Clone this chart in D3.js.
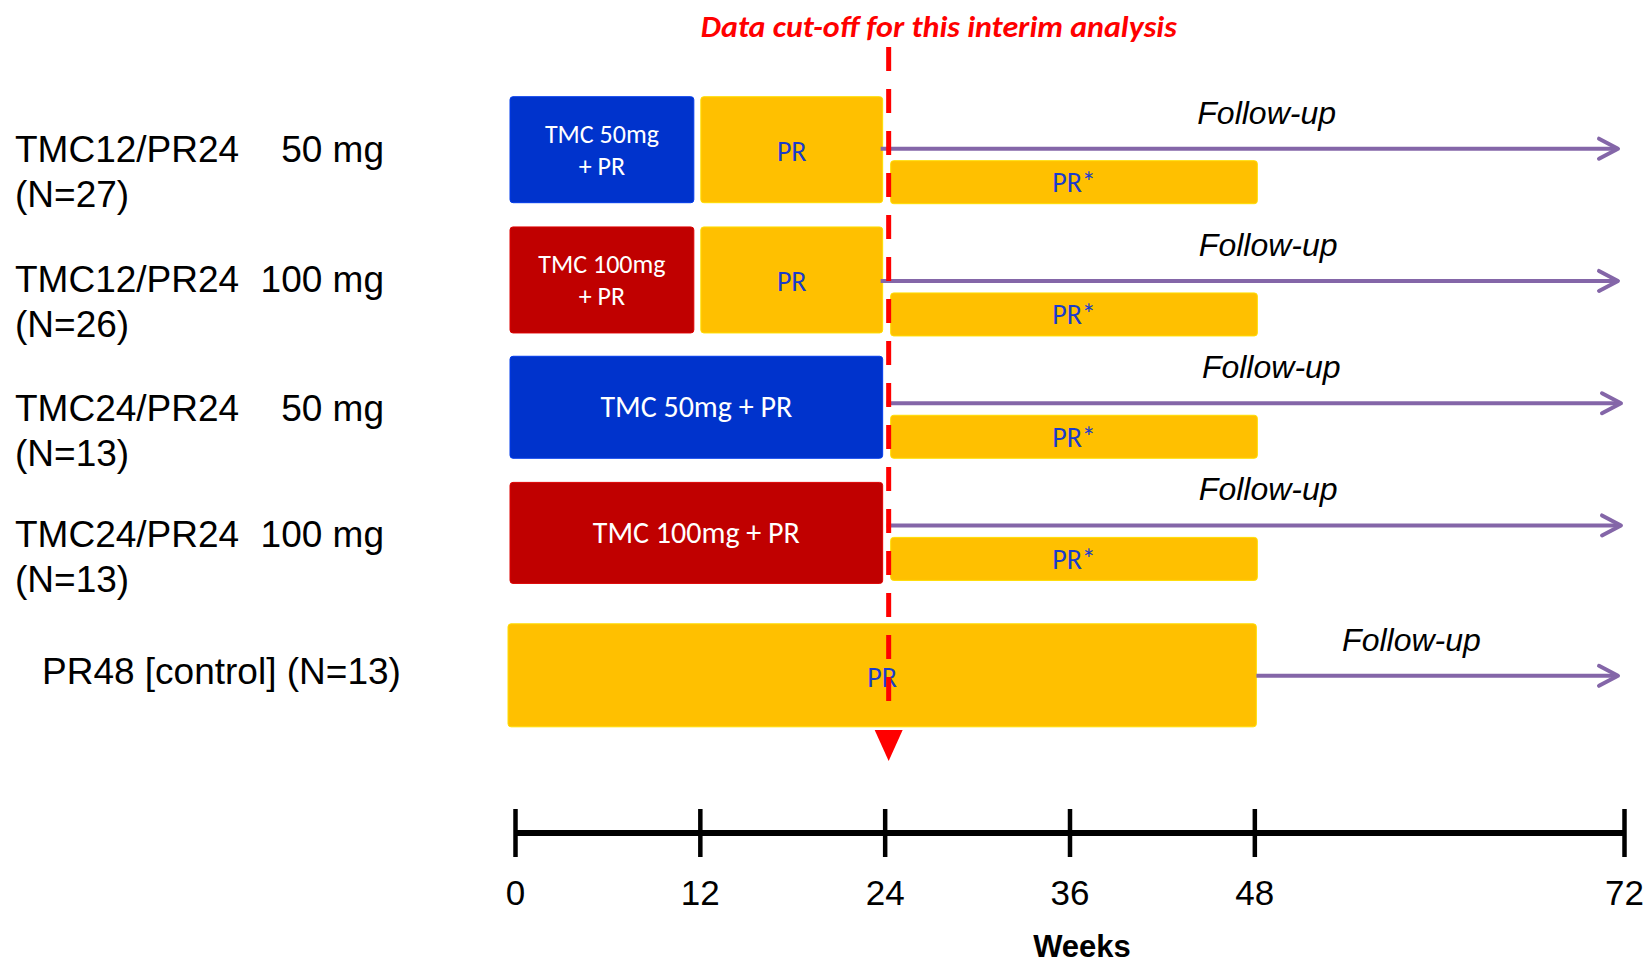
<!DOCTYPE html>
<html>
<head>
<meta charset="utf-8">
<script src="https://cdn.jsdelivr.net/npm/d3@7"></script>
<style>
  html, body { margin: 0; padding: 0; background: #fff; }
  svg { display: block; }
</style>
</head>
<body>
<svg id="chart" width="1648" height="966"></svg>
<script>
// ---- Study arms (rows, top to bottom) ----
const armNames = ["TMC12/PR24", "TMC12/PR24", "TMC24/PR24", "TMC24/PR24"];
const armDoses = ["50 mg", "100 mg", "50 mg", "100 mg"];
const armSizes = [27, 26, 13, 13];
const controlLabel = "PR48 [control] (N=13)";

// ---- Treatment blocks, in weeks ----
const blockRow   = [0, 0, 1, 1, 2, 3, 4];
const blockStart = [0, 12, 0, 12, 0, 0, 0];
const blockEnd   = [12, 24, 12, 24, 24, 24, 48];
const blockKind  = ["tmc50", "pr", "tmc100", "pr", "tmc50", "tmc100", "pr"];
const blockText  = [["TMC 50mg", "+ PR"], ["PR"], ["TMC 100mg", "+ PR"], ["PR"],
                    ["TMC 50mg + PR"], ["TMC 100mg + PR"], ["PR"]];

// ---- PR* continuation after week 24 ----
const prStarRow   = [0, 1, 2, 3];
const prStarStart = [24, 24, 24, 24];
const prStarEnd   = [48, 48, 48, 48];
const prStarText  = "PR*";

// ---- Follow-up periods ----
const followRow   = [0, 1, 2, 3, 4];
const followStart = [24, 24, 24, 24, 48];
const followEnd   = [72, 72, 72, 72, 72];
const followText  = "Follow-up";

// ---- Time axis ----
const weekTicks  = [0, 12, 24, 36, 48, 72];
const cutoffWeek = 24;
const cutoffText = "Data cut-off for this interim analysis";
const axisTitle  = "Weeks";

// ---- Layout ----
const rowSlot   = [0, 1.013, 2.019, 3, 4.1];     // vertical slot of each row
const rowHeight = [106, 106, 102, 101, 103];     // block height per row
const starDrop  = [64, 66, 59, 55];              // PR* block offset below row top
const starH = 43;
const followLabelAt = [48.8, 48.9, 49.1, 48.9, 58.2]; // week where "Follow-up" is centred

const colors = {
  tmc50: "#0033cc", tmc100: "#c00000", pr: "#ffc000",
  prText: "#1a3ccc", follow: "#8466a8", cutoff: "#ff0000"
};

const svg = d3.select("#chart");
const x = d3.scaleLinear().domain([0, 72]).range([515, 1624]);
const y = d3.scaleLinear().domain([0, 3]).range([96.7, 482.4]);
const rowTop = r => y(rowSlot[r]);

// ---- Row labels ----
const labelFont = "'Liberation Sans', Arial, sans-serif";
const lab = svg.append("g").attr("font-family", labelFont).attr("font-size", 37).attr("fill", "#000");
armNames.forEach((name, i) => {
  const t = rowTop(i);
  lab.append("text").attr("x", 15).attr("y", t + 65).text(name);
  lab.append("text").attr("x", 384).attr("y", t + 65).attr("text-anchor", "end").text(armDoses[i]);
  lab.append("text").attr("x", 15).attr("y", t + 110).text(`(N=${armSizes[i]})`);
});
lab.append("text").attr("x", 42).attr("y", rowTop(4) + 60).text(controlLabel);

// ---- Treatment blocks ----
const boxFont = "Carlito, Lato, 'Open Sans', sans-serif";
const blocks = blockRow.map((r, i) => ({
  r, s: blockStart[i], e: blockEnd[i], kind: blockKind[i], text: blockText[i],
  hasNext: blockRow[i + 1] === r
}));
const bg = svg.append("g");
blocks.forEach(b => {
  const x0 = x(b.s) + (b.s === 0 ? (b.r === 4 ? -7 : -5) : 1);
  const x1 = x(b.e) - (b.hasNext ? 6 : (b.e === 48 ? -2 : 2));
  const t = rowTop(b.r), h = rowHeight[b.r];
  bg.append("rect")
    .attr("x", x0).attr("y", t).attr("width", x1 - x0).attr("height", h)
    .attr("rx", 3).attr("fill", colors[b.kind])
    .attr("stroke", d3.color(colors[b.kind]).brighter(0.4)).attr("stroke-width", 1);
  const cx = (x0 + x1) / 2, cy = t + h / 2;
  const isPR = b.kind === "pr";
  const fs = b.text.length > 1 ? 26 : (isPR ? 28 : 30);
  const lh = 32;
  b.text.forEach((line, k) => {
    bg.append("text")
      .attr("x", cx)
      .attr("y", cy + (k - (b.text.length - 1) / 2) * lh + fs * 0.34 + (isPR ? 2 : 0))
      .attr("text-anchor", "middle")
      .attr("font-family", boxFont).attr("font-size", fs)
      .attr("fill", isPR ? colors.prText : "#fff")
      .text(line);
  });
});

// ---- PR* blocks ----
prStarRow.forEach((r, i) => {
  const x0 = x(prStarStart[i]) + 6, x1 = x(prStarEnd[i]) + 3;
  const t = rowTop(r) + starDrop[i];
  bg.append("rect")
    .attr("x", x0).attr("y", t).attr("width", x1 - x0).attr("height", starH)
    .attr("rx", 3).attr("fill", colors.pr)
    .attr("stroke", d3.color(colors.pr).brighter(0.4)).attr("stroke-width", 1);
  bg.append("text")
    .attr("x", (x0 + x1) / 2).attr("y", t + starH / 2 + 10)
    .attr("text-anchor", "middle")
    .attr("font-family", boxFont).attr("font-size", 28)
    .attr("fill", colors.prText).text(prStarText);
});

// ---- Follow-up arrows ----
const fg = svg.append("g");
followRow.forEach((r, i) => {
  const ay = r < 4 ? rowTop(r) + starDrop[r] - 12 : rowTop(r) + 52;
  const x0 = x(followStart[i]) + (r < 4 ? (r < 2 ? -4 : 2) : 2);
  const x1 = x(followEnd[i]) - (r === 2 || r === 3 ? 3 : 6);
  fg.append("line")
    .attr("x1", x0).attr("x2", x1 - 1).attr("y1", ay).attr("y2", ay)
    .attr("stroke", colors.follow).attr("stroke-width", 4);
  fg.append("path")
    .attr("d", `M${x1 - 19},${ay - 10}L${x1},${ay}L${x1 - 19},${ay + 10}`)
    .attr("fill", "none").attr("stroke", colors.follow).attr("stroke-width", 4)
    .attr("stroke-linecap", "round").attr("stroke-linejoin", "round");
  fg.append("text")
    .attr("x", x(followLabelAt[i])).attr("y", ay - 25)
    .attr("text-anchor", "middle")
    .attr("font-family", labelFont).attr("font-style", "italic").attr("font-size", 32)
    .attr("fill", "#000").text(followText);
});

// ---- Data cut-off marker ----
const cx = x(cutoffWeek) + 4;
svg.append("line")
  .attr("x1", cx).attr("x2", cx).attr("y1", 47).attr("y2", 701)
  .attr("stroke", colors.cutoff).attr("stroke-width", 5)
  .attr("stroke-dasharray", "24 18");
svg.append("path")
  .attr("d", `M${cx - 14},730L${cx + 14},730L${cx},761Z`)
  .attr("fill", colors.cutoff);
svg.append("text")
  .attr("x", x(12) + 1).attr("y", 37)
  .attr("font-family", boxFont).attr("font-weight", "bold").attr("font-style", "italic")
  .attr("font-size", 31).attr("fill", colors.cutoff)
  .attr("textLength", 476).attr("lengthAdjust", "spacingAndGlyphs")
  .text(cutoffText);

// ---- Weeks axis ----
const axisY = 833;
const axis = d3.axisBottom(x).tickValues(weekTicks).tickSizeInner(24).tickSizeOuter(0).tickPadding(23);
const ag = svg.append("g").attr("transform", `translate(0,${axisY})`).call(axis);
ag.select(".domain").attr("stroke", "#000").attr("stroke-width", 6)
  .attr("d", `M${x(0)},0H${x(72)}`);
ag.selectAll(".tick line").attr("stroke", "#000").attr("stroke-width", 4.5).attr("y1", -24).attr("y2", 24);
ag.selectAll(".tick text").attr("font-family", labelFont).attr("font-size", 35).attr("fill", "#000");
svg.append("text")
  .attr("x", 1082).attr("y", 957)
  .attr("text-anchor", "middle")
  .attr("font-family", labelFont).attr("font-weight", "bold").attr("font-size", 31)
  .attr("fill", "#000").text(axisTitle);
</script>
</body>
</html>
